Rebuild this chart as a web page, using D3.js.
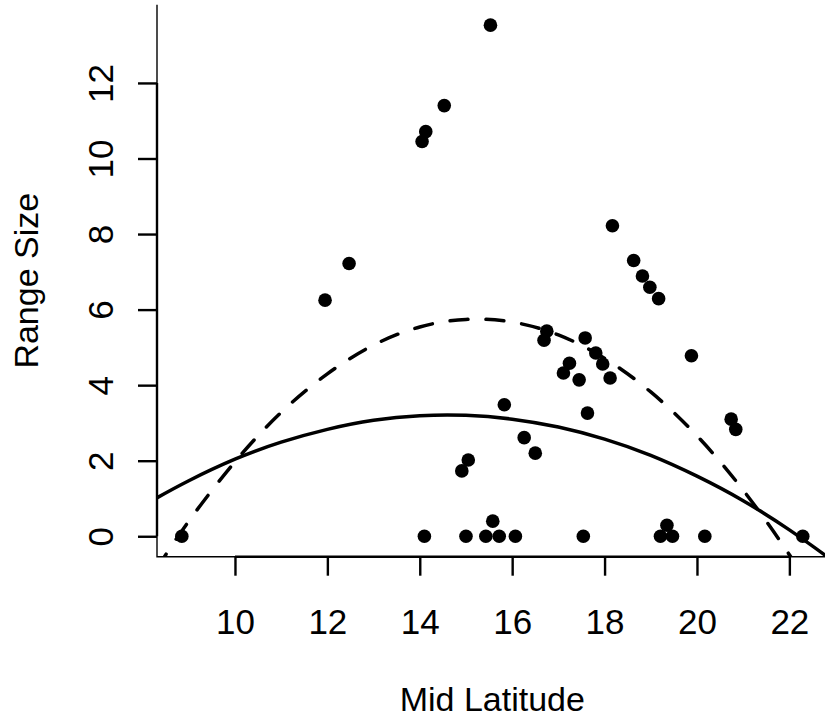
<!DOCTYPE html>
<html>
<head>
<meta charset="utf-8">
<script src="https://cdn.jsdelivr.net/npm/d3@7"></script>
<style>
  body { margin: 0; background: #fff; }
  svg { display: block; }
  text { font-family: "Liberation Sans", Arial, sans-serif; fill: #000; }
</style>
</head>
<body>
<svg width="825" height="724"></svg>
<script>
// observed species: mid latitude vs range size
const midLat = [8.85, 11.95, 12.47, 14.05, 14.13, 14.53, 15.53, 14.10, 14.91, 15.05,
  15.00, 15.43, 15.58, 15.72, 15.83, 16.07, 16.26, 16.50, 16.69, 16.75,
  17.11, 17.24, 17.45, 17.54, 17.58, 17.63, 17.81, 17.96, 18.12, 18.17,
  18.63, 18.82, 18.98, 19.17, 19.21, 19.35, 19.47, 19.88, 20.17, 20.74,
  20.84, 22.29];
const rangeSize = [0, 6.25, 7.22, 10.45, 10.71, 11.40, 13.53, 0, 1.73, 2.02,
  0, 0, 0.40, 0, 3.48, 0, 2.61, 2.20, 5.19, 5.43,
  4.32, 4.58, 4.14, 0, 5.25, 3.26, 4.85, 4.56, 4.19, 8.22,
  7.30, 6.89, 6.59, 6.29, 0, 0.29, 0, 4.78, 0, 3.10,
  2.83, 0];

// fitted curves, read at these latitudes
const fitLat = [8.3, 9, 10, 11, 12, 13, 14, 15, 16, 17, 18, 19, 20, 21, 22, 22.83];
const fitSolid = [1.01, 1.47, 2.04, 2.49, 2.83, 3.07, 3.19, 3.20, 3.10, 2.89, 2.57, 2.14, 1.59, 0.94, 0.17, -0.55];
const fitDashed = [-0.87, 0.40, 1.97, 3.28, 4.30, 5.06, 5.54, 5.74, 5.67, 5.33, 4.71, 3.82, 2.66, 1.22, -0.49, -2.12];

const xTicks = [10, 12, 14, 16, 18, 20, 22];
const yTicks = [0, 2, 4, 6, 8, 10, 12];

const svg = d3.select("svg");
const plot = { left: 157, right: 827.6, top: 4.7, bottom: 556.7 };

// axis limits padded 4% either side of the data
function padded(v) {
  const lo = d3.min(v), hi = d3.max(v), p = (hi - lo) * 0.04;
  return [lo - p, hi + p];
}
const x = d3.scaleLinear().domain(padded(midLat)).range([plot.left, plot.right]);
const y = d3.scaleLinear().domain(padded(rangeSize)).range([plot.bottom, plot.top]);

svg.append("clipPath").attr("id", "clip")
  .append("rect")
  .attr("x", plot.left).attr("y", plot.top)
  .attr("width", plot.right - plot.left).attr("height", plot.bottom - plot.top);

// L-shaped box
svg.append("path")
  .attr("d", `M${plot.left},${plot.top}V${plot.bottom}H${plot.right}`)
  .attr("fill", "none").attr("stroke", "#000").attr("stroke-width", 1.4);

// x axis
const xAxis = svg.append("g")
  .attr("transform", `translate(0,${plot.bottom})`)
  .call(d3.axisBottom(x).tickValues(xTicks).tickSize(19).tickPadding(0).tickFormat(d3.format("d")));
xAxis.select(".domain").attr("d", `M${x(10)},0H${x(22)}`).attr("stroke-width", 2.4);
xAxis.selectAll(".tick line").attr("stroke-width", 2.4);
xAxis.selectAll(".tick text")
  .attr("y", 77).attr("dy", null)
  .style("font-size", "35px");

// y axis, labels rotated parallel to the axis
const yAxis = svg.append("g")
  .attr("transform", `translate(${plot.left},0)`)
  .call(d3.axisLeft(y).tickValues(yTicks).tickSize(19).tickFormat(d3.format("d")));
yAxis.select(".domain").attr("d", `M0,${y(0)}V${y(12)}`).attr("stroke-width", 2.4);
yAxis.selectAll(".tick line").attr("stroke-width", 2.4);
yAxis.selectAll(".tick text")
  .attr("x", null).attr("dy", null)
  .attr("text-anchor", "middle")
  .attr("transform", "translate(-44,0) rotate(-90)")
  .style("font-size", "35px");

svg.selectAll(".domain").attr("stroke", "#000");
svg.selectAll(".tick line").attr("stroke", "#000");
svg.selectAll("g text").attr("fill", "#000").attr("font-family", null);

// axis titles
svg.append("text")
  .attr("x", (plot.left + plot.right) / 2).attr("y", 711)
  .attr("text-anchor", "middle")
  .style("font-size", "34px")
  .text("Mid Latitude");

svg.append("text")
  .attr("transform", `translate(38,${(plot.top + plot.bottom) / 2}) rotate(-90)`)
  .attr("text-anchor", "middle")
  .style("font-size", "34px")
  .text("Range Size");

// fitted curves
const line = d3.line()
  .x((d, i) => x(fitLat[i]))
  .y(d => y(d))
  .curve(d3.curveNatural);

const curves = svg.append("g").attr("clip-path", "url(#clip)");
curves.append("path")
  .attr("d", line(fitSolid))
  .attr("fill", "none").attr("stroke", "#000").attr("stroke-width", 3.5);
curves.append("path")
  .attr("d", line(fitDashed))
  .attr("fill", "none").attr("stroke", "#000").attr("stroke-width", 3.5)
  .attr("stroke-dasharray", "18,18").attr("stroke-linecap", "round");

// points
svg.append("g").selectAll("circle")
  .data(midLat)
  .enter().append("circle")
  .attr("cx", d => x(d))
  .attr("cy", (d, i) => y(rangeSize[i]))
  .attr("r", 6.8)
  .attr("fill", "#000");
</script>
</body>
</html>
